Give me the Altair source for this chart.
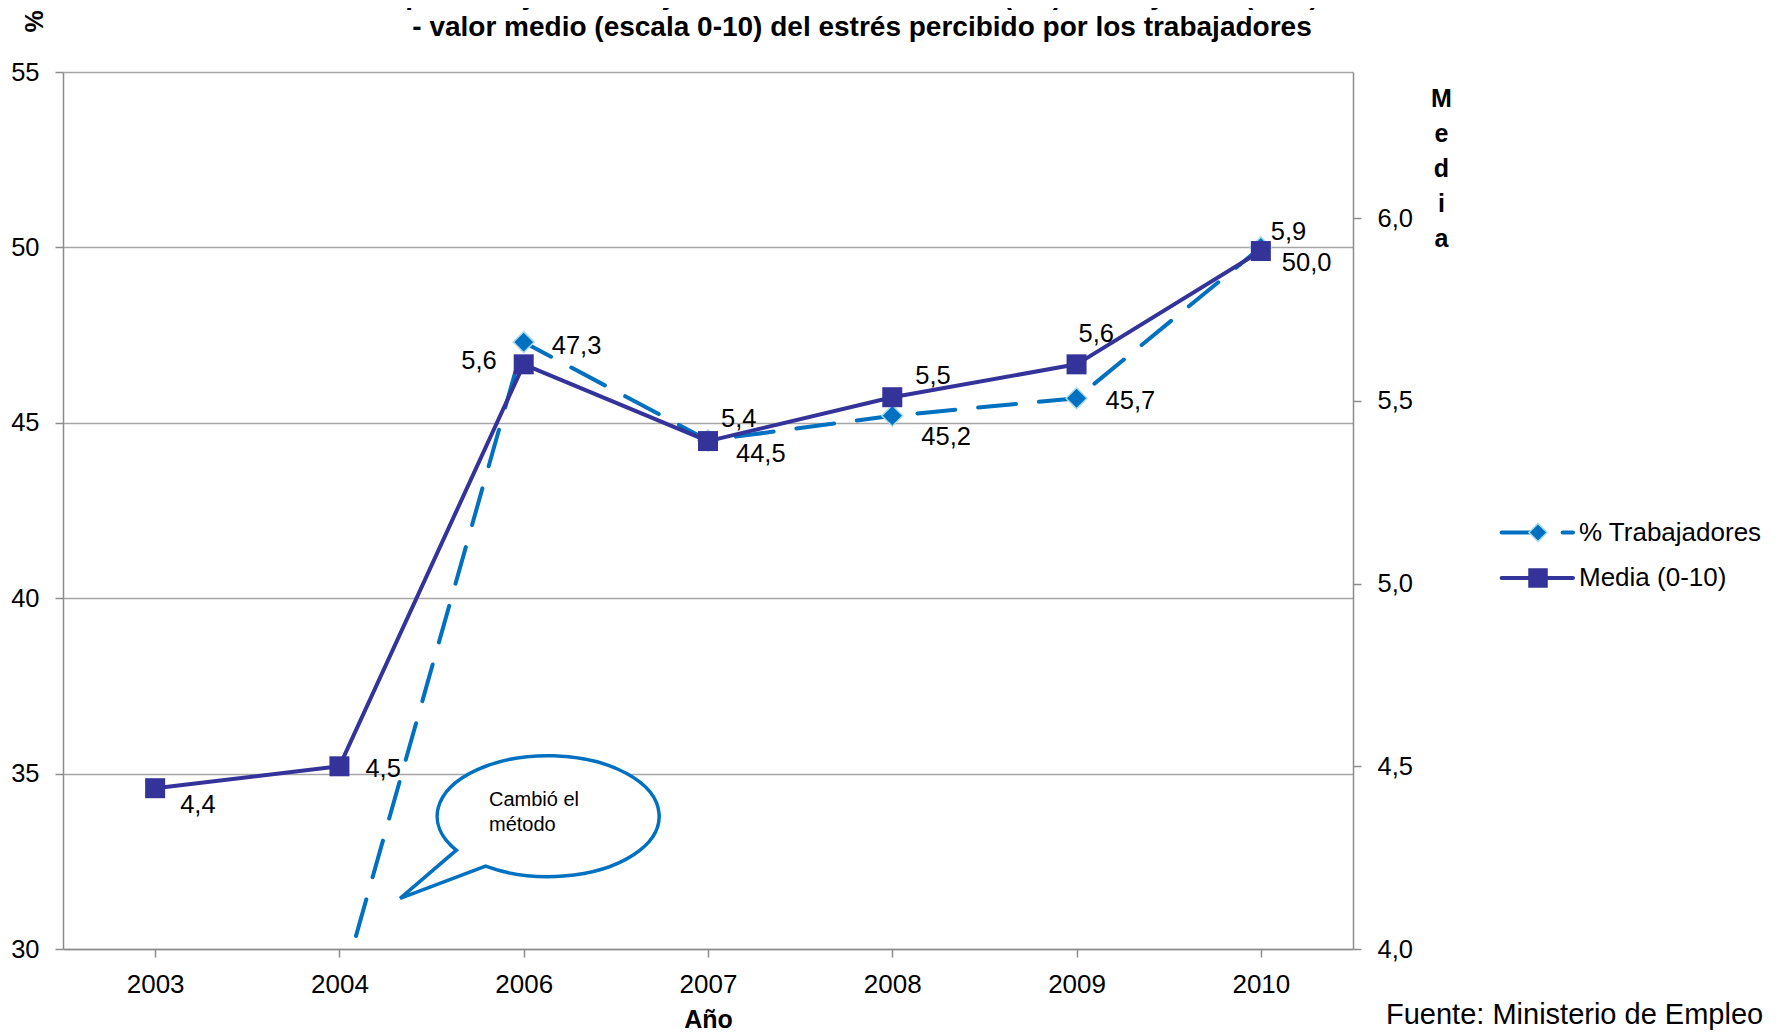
import altair as alt
import pandas as pd

FONT = "Liberation Sans"
GRID = "#A6A6A6"
AXISC = "#8C8C8C"
BLUE = "#0070C0"
INDIGO = "#333399"
DIAMOND_EDGE = "#A9DCEB"

# ---------------- data ----------------
years = ["2003", "2004", "2006", "2007", "2008", "2009", "2010"]
pct_trabajadores = [None, 28.7, 47.3, 44.5, 45.2, 45.7, 50.0]
media_estres = [4.44, 4.50, 5.60, 5.39, 5.51, 5.60, 5.91]

series_names = ["% Trabajadores", "Media (0-10)"]
series_colors = [BLUE, INDIGO]

title_lines = [
    'porcentaje de trabajadores con estrés "alto" (7-8) o "muy alto" (9-10)',
    "- valor medio (escala 0-10) del estrés percibido por los trabajadores",
]
left_ticks = [30, 35, 40, 45, 50, 55]
right_ticks = [4.0, 4.5, 5.0, 5.5, 6.0]
callout_text = "Cambió el\nmétodo"
callout_year = "2006"
callout_value = 33.8
source_text = "Fuente: Ministerio de Empleo"

# ---------------- label placement (pixels, styling only) ----------------
pct_label_offsets = {
    "2006": (28, 4, "left"),
    "2007": (28, 14, "left"),
    "2008": (29, 21, "left"),
    "2009": (29, 2.5, "left"),
    "2010": (21, 15.5, "left"),
}
media_label_offsets = {
    "2003": (25, 17, "left"),
    "2004": (26, 3, "left"),
    "2006": (-27, -3, "right"),
    "2007": (13, -22, "left"),
    "2008": (23, -21, "left"),
    "2009": (2, -30, "left"),
    "2010": (10, -19, "left"),
}

# speech bubble outline (pixels relative to its anchor point)
BUBBLE = "M -38.1 50.5 A 111 60.5 0 1 0 -67.4 34.5 L -123.6 82.6 Z"

W, H = 1290, 877

df = pd.DataFrame({"year": years, "pct": pct_trabajadores, "media": media_estres})

x_enc = alt.X(
    "year:N",
    scale=alt.Scale(type="point", domain=years, padding=0.5),
    axis=alt.Axis(
        title="Año", labelAngle=0, labelFont=FONT, labelFontSize=26, labelColor="black",
        labelPadding=14, tickSize=8, tickColor=AXISC, tickWidth=1.5,
        domainColor=AXISC, domainWidth=1.5, grid=False,
        titleFont=FONT, titleFontSize=25, titleFontWeight="bold", titleColor="black",
        titlePadding=10,
    ),
)
y_left = alt.Y(
    "pct:Q",
    scale=alt.Scale(domain=[30, 55], nice=False, zero=False),
    axis=alt.Axis(
        values=left_ticks, format="d", grid=True, gridColor=GRID, gridWidth=1.5,
        domainColor=AXISC, domainWidth=1.5, tickColor=AXISC, tickWidth=1.5, tickSize=8,
        labelFont=FONT, labelFontSize=25.5, labelColor="black", labelPadding=16,
        title="%", titleFont=FONT, titleFontSize=25, titleFontWeight="bold", titleColor="black",
        titleAngle=270, titleX=-29, titleY=-51, titleAlign="center", titleBaseline="middle",
    ),
)
y_right = alt.Y(
    "media:Q",
    scale=alt.Scale(domain=[4.0, 6.4], nice=False, zero=False),
    axis=alt.Axis(
        orient="right", values=right_ticks,
        labelExpr="replace(format(datum.value, '.1f'), '.', ',')",
        grid=False, domainColor=AXISC, domainWidth=1.5, tickColor=AXISC, tickWidth=1.5,
        tickSize=8, labelFont=FONT, labelFontSize=25.5, labelColor="black", labelPadding=16,
        title=["M", "e", "d", "i", "a"], titleFont=FONT, titleFontSize=25,
        titleFontWeight="bold", titleColor="black", titleAngle=0, titleX=88, titleY=14,
        titleAlign="center", titleBaseline="top", titleLineHeight=35,
    ),
)

base = alt.Chart(df)

pct_line = base.transform_filter("isValid(datum.pct)").mark_line(
    color=BLUE, strokeWidth=4, strokeDash=[38, 23], strokeCap="round", clip=True
).encode(x=x_enc, y=y_left)

pct_pts = base.transform_filter("isValid(datum.pct) && datum.pct >= 30").mark_point(
    shape="diamond", size=441, filled=True, fill=BLUE, stroke=DIAMOND_EDGE,
    strokeWidth=1.5, opacity=1
).encode(x=x_enc, y=y_left)

pct_labels = [
    base.transform_filter(alt.datum.year == yr)
    .transform_calculate(lbl="replace(format(datum.pct, '.1f'), '.', ',')")
    .mark_text(dx=dx, dy=dy, align=al, baseline="middle", font=FONT, fontSize=25.5, color="black")
    .encode(x=x_enc, y=y_left, text="lbl:N")
    for yr, (dx, dy, al) in pct_label_offsets.items()
]

callout_df = pd.DataFrame({"year": [callout_year], "pct": [callout_value], "note": [callout_text]})
bubble = alt.Chart(callout_df).mark_point(
    shape=BUBBLE, size=4, filled=True, fill="white", stroke=BLUE, strokeWidth=3.5, opacity=1
).encode(x=x_enc, y=y_left)
note = alt.Chart(callout_df).mark_text(
    align="left", baseline="alphabetic", dx=-34.7, dy=-9.7, lineBreak="\n", lineHeight=25,
    font=FONT, fontSize=20, color="black"
).encode(x=x_enc, y=y_left, text="note:N")

media_line = base.mark_line(color=INDIGO, strokeWidth=4, strokeJoin="round").encode(x=x_enc, y=y_right)
media_pts = base.mark_point(shape="square", size=400, filled=True, color=INDIGO, opacity=1).encode(
    x=x_enc, y=y_right
)
media_labels = [
    base.transform_filter(alt.datum.year == yr)
    .transform_calculate(lbl="replace(format(datum.media, '.1f'), '.', ',')")
    .mark_text(dx=dx, dy=dy, align=al, baseline="middle", font=FONT, fontSize=25.5, color="black")
    .encode(x=x_enc, y=y_right, text="lbl:N")
    for yr, (dx, dy, al) in media_label_offsets.items()
]

left_group = alt.layer(pct_line, pct_pts, *pct_labels, bubble, note)
right_group = alt.layer(media_line, media_pts, *media_labels)
main = alt.layer(left_group, right_group).resolve_scale(y="independent")

# ---------------- legend (drawn as marks) ----------------
leg_df = pd.DataFrame({"series": series_names})
leg_y = alt.Y(
    "series:N",
    scale=alt.Scale(type="point", domain=series_names, range=[460.5, 506], padding=0),
    axis=None,
)
leg_color = alt.Color("series:N", scale=alt.Scale(domain=series_names, range=series_colors), legend=None)
leg_rule = alt.Chart(leg_df).mark_rule(strokeWidth=4, strokeCap="round").encode(
    x=alt.value(1438.6), x2=alt.value(1510), y=leg_y, color=leg_color,
    strokeDash=alt.StrokeDash(
        "series:N", scale=alt.Scale(domain=series_names, range=[[38, 23], [1, 0]]), legend=None
    ),
)
leg_pts = alt.Chart(leg_df).mark_point(filled=True, opacity=1, strokeWidth=1.5).encode(
    x=alt.value(1475), y=leg_y,
    shape=alt.Shape("series:N", scale=alt.Scale(domain=series_names, range=["diamond", "square"]), legend=None),
    size=alt.Size("series:N", scale=alt.Scale(domain=series_names, range=[330, 324]), legend=None),
    fill=alt.Fill("series:N", scale=alt.Scale(domain=series_names, range=series_colors), legend=None),
    stroke=alt.Stroke("series:N", scale=alt.Scale(domain=series_names, range=[DIAMOND_EDGE, INDIGO]), legend=None),
)
leg_text = alt.Chart(leg_df).mark_text(
    align="left", baseline="middle", font=FONT, fontSize=26, color="black"
).encode(x=alt.value(1516), y=leg_y, text="series:N")
source = alt.Chart(pd.DataFrame({"t": [source_text]})).mark_text(
    align="left", baseline="alphabetic", font=FONT, fontSize=29, color="black"
).encode(x=alt.value(1323), y=alt.value(952), text="t:N")

legend_group = alt.layer(leg_rule, leg_pts, leg_text, source)

chart = (
    alt.layer(main, legend_group)
    .resolve_scale(y="independent")
    .properties(
        width=W,
        height=H,
        title=alt.TitleParams(
            text=title_lines, anchor="middle", frame="group", dx=154, dy=60, offset=0,
            font=FONT, fontSize=28, fontWeight="bold", color="black", lineHeight=32,
            baseline="bottom",
        ),
        padding={"left": 55, "top": 64, "right": 420, "bottom": 100},
        autosize=alt.AutoSizeParams(type="none"),
    )
    .configure_view(stroke="transparent")
)

chart.save("out.html", embed_options={"renderer": "svg", "actions": False})
